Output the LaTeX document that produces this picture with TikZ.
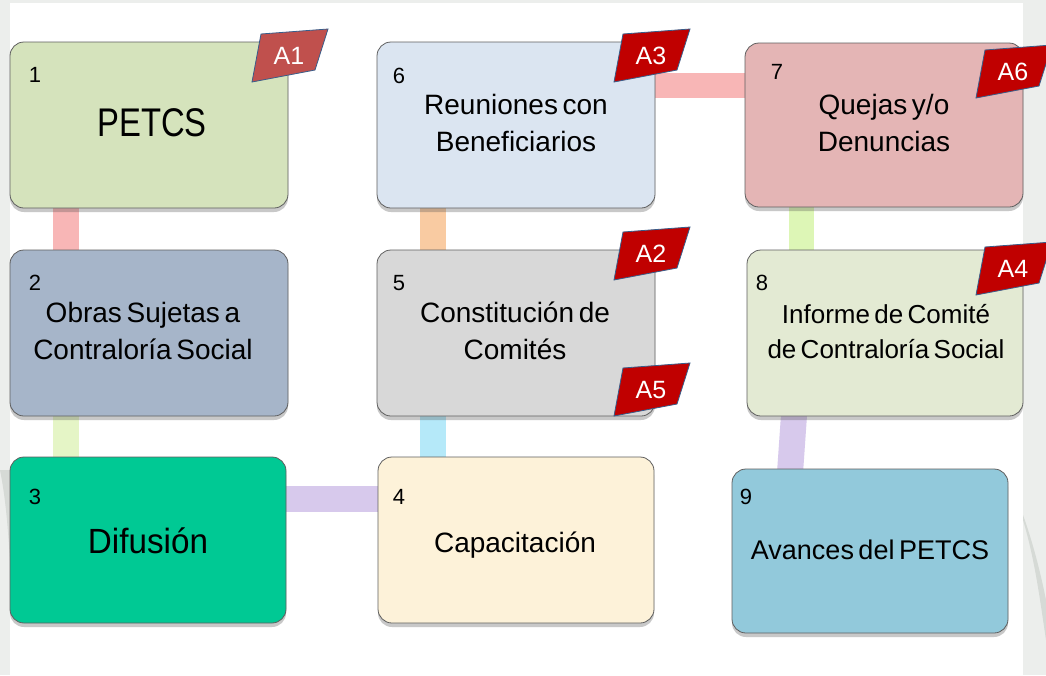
\documentclass[tikz,border=0pt]{standalone}
\usepackage{fontspec}
\setmainfont{Liberation Sans}[WordSpace=0.6]
\usetikzlibrary{shadows,calc}
\pgfdeclarelayer{bg}
\pgfdeclarelayer{bands}
\pgfsetlayers{bg,bands,main}
\definecolor{bggray}{HTML}{ECEEEC}
\definecolor{swoosh}{HTML}{D6DAD6}
\definecolor{boxline}{HTML}{5F5F5F}
\definecolor{cA}{HTML}{D5E3BC}
\definecolor{cB}{HTML}{A6B5C9}
\definecolor{cC}{HTML}{00C994}
\definecolor{cD}{HTML}{FDF2D9}
\definecolor{cE}{HTML}{D8D8D8}
\definecolor{cF}{HTML}{DBE5F1}
\definecolor{cG}{HTML}{E4B5B5}
\definecolor{cH}{HTML}{E3EAD3}
\definecolor{cI}{HTML}{92C9DB}
\definecolor{tagred}{HTML}{C00000}
\definecolor{tagsoft}{HTML}{C0504D}
\definecolor{tagline}{HTML}{385D8A}
\definecolor{bpink}{HTML}{F8B6B6}
\definecolor{bpeach}{HTML}{F9CBA2}
\definecolor{bgreen}{HTML}{DDF6B6}
\definecolor{blgreen}{HTML}{E5F5C6}
\definecolor{bcyan}{HTML}{B5E9F9}
\definecolor{bpurple}{HTML}{D7C9EC}
\tikzset{
  box/.style={draw=boxline, line width=0.8pt, rounded corners=14pt,
    minimum width=278pt, minimum height=166pt, inner sep=0pt,
    drop shadow={shadow xshift=0pt, shadow yshift=-4pt, opacity=0.3, fill=black!70}},
  num/.style={font=\fontsize{22}{22}\selectfont, inner sep=0pt},
  txt/.style={font=\fontsize{28}{37}\selectfont, align=center, inner sep=0pt},
  band/.style={line width=26pt},
  tagtxt/.style={text=white, font=\fontsize{25}{25}\selectfont, inner sep=0pt},
}
\newcommand\tagflag[5]{%
  \begin{scope}[shift={(#2,#3)}]
    \draw[draw=tagline, line width=0.8pt, fill=#4] (-37,28) -- (-28,-20) -- (39,-25) -- (26,16) -- cycle;
    \node[tagtxt] (#1) at (0,2) {#5};
  \end{scope}}
\begin{document}
\begin{tikzpicture}[x=1pt,y=-1pt]
\useasboundingbox (0,0) rectangle (1046,675);
\begin{pgfonlayer}{bg}
  \fill[bggray] (0,0) rectangle (1046,675);
  \fill[swoosh] (0,470) .. controls (6,500) and (8,530) .. (10,560) -- (10,470) -- cycle;
  \fill[swoosh] (1023,520) .. controls (1035,560) and (1040,600) .. (1046,640) -- (1046,600) .. controls (1040,570) and (1032,540) .. (1023,515) -- cycle;
  \fill[white] (10,3) rectangle (1023,675);
\end{pgfonlayer}

% boxes
\node[box, fill=cA] (b1) at (149,125) {};
\node[box, fill=cF] (b6) at (516,125) {};
\node[box, fill=cG, minimum height=164pt] (b7) at (884,125) {};
\node[box, fill=cB] (b2) at (149,333) {};
\node[box, fill=cE] (b5) at (516,333) {};
\node[box, fill=cH, minimum width=276pt] (b8) at (885,333) {};
\node[box, fill=cC, minimum width=276pt] (b3) at (148,540) {};
\node[box, fill=cD, minimum width=276pt] (b4) at (516,540) {};
\node[box, fill=cI, minimum width=276pt, minimum height=164pt] (b9) at (870,551) {};

% bands
\begin{pgfonlayer}{bands}
  \draw[band, bpink] ($(b1.south west)+(56,-10)$) -- ($(b2.north west)+(56,10)$);
  \draw[band, blgreen] ($(b2.south west)+(56,-10)$) -- ($(b3.north west)+(56,10)$);
  \draw[band, bpurple] ($(b3.east)+(-10,-41)$) -- ($(b4.west)+(10,-41)$);
  \draw[band, bcyan] ($(b5.south west)+(56,-10)$) -- ($(b4.north west)+(55,10)$);
  \draw[band, bpeach] ($(b6.south west)+(56,-10)$) -- ($(b5.north west)+(56,10)$);
  \draw[band, bpink, line width=25pt] ($(b6.east)+(-10,-40)$) -- ($(b7.west)+(10,-40)$);
  \draw[band, bgreen, line width=25pt] ($(b7.south west)+(57,-10)$) -- ($(b8.north west)+(55,10)$);
  \draw[band, bpurple] ($(b8.south west)+(48,-10)$) -- ($(b9.north west)+(58,10)$);
\end{pgfonlayer}

% numbers
\node[num] (n1) at (35,75) {1};
\node[num] (n6) at (399,76) {6};
\node[num] (n7) at (777,72) {7};
\node[num] (n2) at (35,283) {2};
\node[num] (n5) at (399,283) {5};
\node[num] (n8) at (762,283) {8};
\node[num] (n3) at (35,497) {3};
\node[num] (n4) at (399,497) {4};
\node[num] (n9) at (746,497) {9};

% texts
\node[txt, font=\fontsize{40}{40}\selectfont, xscale=0.82] (t1) at (152,123) {PETCS};
\node[txt] (t6) at (516,123) {Reuniones con\\Beneficiarios};
\node[txt] (t7) at (884,123) {Quejas y/o\\Denuncias};
\node[txt] (t2) at (143,331) {Obras Sujetas a\\Contraloría Social};
\node[txt] (t5) at (515,331) {Constitución de\\Comités};
\node[txt, font=\fontsize{26}{35}\selectfont] (t8) at (886,332) {Informe de Comité\\de Contraloría Social};
\node[txt, font=\fontsize{35}{35}\selectfont, xscale=0.95] (t3) at (148,541) {Difusión};
\node[txt] (t4) at (515,545) {Capacitación};
\node[txt, font=\fontsize{27}{27}\selectfont] (t9) at (870,550) {Avances del PETCS};

% tags
\tagflag{a1}{289}{54}{tagsoft}{A1}
\tagflag{a3}{651}{54}{tagred}{A3}
\tagflag{a6}{1013}{70}{tagred}{A6}
\tagflag{a2}{651}{252}{tagred}{A2}
\tagflag{a5}{651}{388}{tagred}{A5}
\tagflag{a4}{1013}{267}{tagred}{A4}
\end{tikzpicture}
\end{document}
